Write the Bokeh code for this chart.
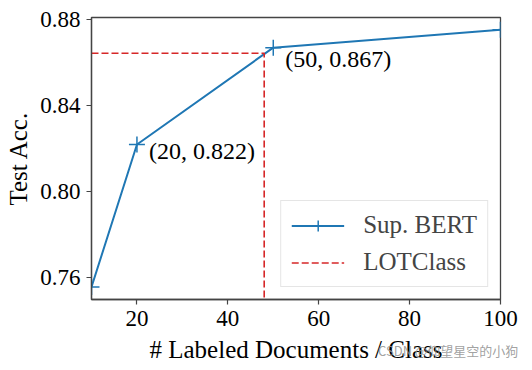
from bokeh.plotting import figure
from bokeh.models import (Range1d, FixedTicker, NumeralTickFormatter, Legend, LegendItem,
                          ColumnDataSource, Div)
from bokeh.layouts import column
from bokeh.core.properties import value
from bokeh.embed import file_html
from bokeh.resources import INLINE

# data
docs = [10, 20, 50, 100]
sup_bert_acc = [0.7558, 0.822, 0.867, 0.8753]
lotclass_acc = 0.8644
lotclass_docs = 48
ann_docs = [20, 50]
ann_acc = [0.822, 0.867]
x_ticks = [20, 40, 60, 80, 100]
y_ticks = [0.76, 0.80, 0.84, 0.88]
watermark = "CSDN @仰望星空的小狗"

FONT = "Liberation Serif"
FS = "23px"
FS_BIG = "25px"

p = figure(width=532, height=370, output_backend="svg", toolbar_location=None,
           x_range=Range1d(10, 100), y_range=Range1d(0.750, 0.881),
           min_border_left=91, min_border_right=32, min_border_top=17, min_border_bottom=71)
p.xgrid.visible = False
p.ygrid.visible = False
p.outline_line_color = "#444444"
p.outline_line_width = 1.3
p.background_fill_color = "white"
p.border_fill_color = "white"

for ax in (p.xaxis[0], p.yaxis[0]):
    ax.major_label_text_font = FONT
    ax.major_label_text_font_size = FS
    ax.major_label_text_color = "black"
    ax.axis_label_text_font = FONT
    ax.axis_label_text_font_size = FS_BIG
    ax.axis_label_text_font_style = "normal"
    ax.axis_label_text_color = "black"
    ax.major_tick_in = 0
    ax.major_tick_out = 5
    ax.minor_tick_line_color = None
    ax.axis_line_color = "#444444"
    ax.axis_line_width = 1.3
    ax.major_tick_line_color = "#444444"
    ax.major_tick_line_width = 1.2

p.xaxis.ticker = FixedTicker(ticks=x_ticks)
p.yaxis.ticker = FixedTicker(ticks=y_ticks)
p.yaxis.formatter = NumeralTickFormatter(format="0.00")
p.xaxis.axis_label = "# Labeled Documents / Class"
p.yaxis.axis_label = "Test Acc."
p.xaxis.major_label_standoff = 6
p.yaxis.major_label_standoff = 6
p.xaxis.axis_label_standoff = 7
p.yaxis.axis_label_standoff = 5

blue = "#1f77b4"
red = "#d62728"

src = ColumnDataSource(dict(x=docs, y=sup_bert_acc))
l1 = p.line("x", "y", source=src, line_color=blue, line_width=2)
m1 = p.scatter("x", "y", source=src, marker="cross", size=16, line_color=blue, line_width=1.5)

ld = ColumnDataSource(dict(x=[p.x_range.start, lotclass_docs, lotclass_docs],
                           y=[lotclass_acc, lotclass_acc, p.y_range.start]))
l2 = p.line("x", "y", source=ld, line_color=red, line_width=1.6, line_dash="7 3")

asrc = ColumnDataSource(dict(x=ann_docs, y=ann_acc,
                             t=[f"({d}, {a:.3f})" for d, a in zip(ann_docs, ann_acc)],
                             yo=[6, 11]))
p.text("x", "y", text="t", source=asrc, x_offset=12, y_offset="yo",
       text_font=value(FONT), text_font_size="24px", text_baseline="middle", text_color="black")

legend = Legend(items=[LegendItem(label="Sup. BERT", renderers=[l1, m1]),
                       LegendItem(label="LOTClass", renderers=[l2])],
                location="bottom_right")
legend.label_text_font = FONT
legend.label_text_font_size = FS_BIG
legend.glyph_width = 53
legend.glyph_height = 27
legend.label_height = 27
legend.label_standoff = 19
legend.spacing = 9
legend.padding = 10
legend.margin = 12
legend.border_line_color = "#cccccc"
legend.border_line_width = 1
legend.background_fill_alpha = 0.9
p.add_layout(legend)

wm = Div(text=watermark, margin=0,
         styles={"position": "absolute", "left": "378px", "top": "343px",
                 "font-family": "'Noto Sans CJK SC', sans-serif", "font-size": "13px",
                 "color": "rgba(150,150,150,0.9)", "white-space": "nowrap",
                 "line-height": "16px"})

layout = column(p, wm, spacing=0)
open("out.html", "w").write(file_html(layout, INLINE))
